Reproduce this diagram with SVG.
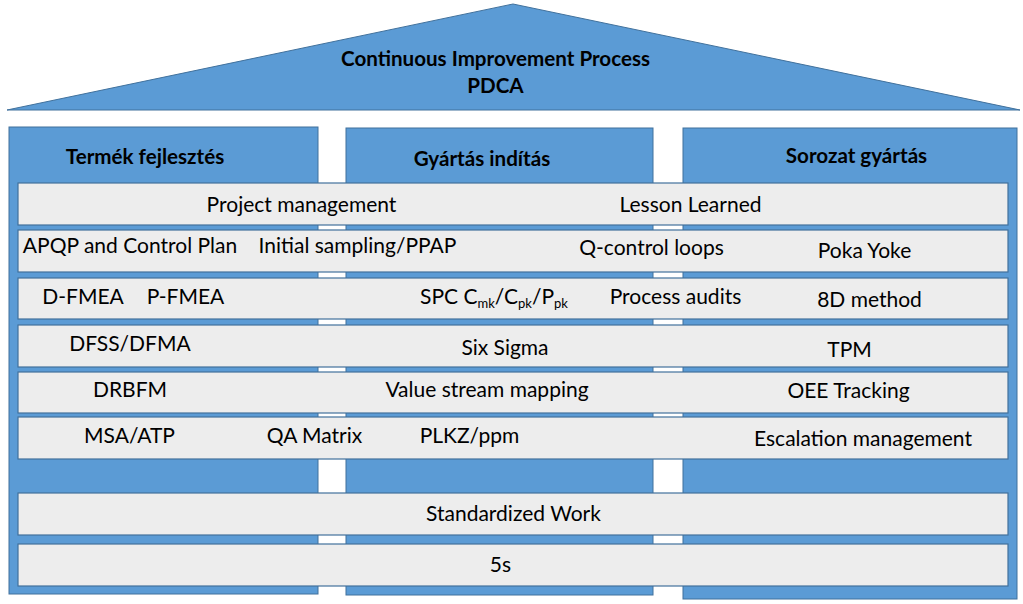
<svg xmlns="http://www.w3.org/2000/svg" width="1023" height="604" viewBox="0 0 1023 604">
<style>
.blue{fill:#5B9BD5;stroke:#41719C;stroke-width:1}
.row{fill:#EDEDED;stroke:#41719C;stroke-width:1.2}
text{font-family:Lato,"Liberation Sans",sans-serif;fill:#000}
.h{font-weight:bold;font-size:20.6px;text-anchor:middle}
.t{font-size:21px;text-anchor:middle}
.s{font-size:21px}
.sub{font-size:13px}
</style>
<rect width="1023" height="604" fill="#fff"/>
<g id="roof">
<polygon class="blue" points="7,110 513,4 1020,110"/>
<text class="h" x="495.5" y="66">Continuous Improvement Process</text>
<text class="h" x="495.5" y="93">PDCA</text>
</g>
<g id="col-termek">
<rect class="blue" x="9" y="127" width="309" height="467"/>
<text class="h" x="145" y="164">Termék fejlesztés</text>
</g>
<g id="col-gyartas">
<rect class="blue" x="346" y="128" width="307" height="467"/>
<text class="h" x="482" y="166">Gyártás indítás</text>
</g>
<g id="col-sorozat">
<rect class="blue" x="683" y="128" width="334" height="471"/>
<text class="h" x="856.5" y="163">Sorozat gyártás</text>
</g>
<g id="row1">
<rect class="row" x="18" y="183" width="990" height="42"/>
<text class="t" x="301.5" y="212">Project management</text>
<text class="t" x="690.5" y="212">Lesson Learned</text>
</g>
<g id="row2">
<rect class="row" x="18" y="230" width="990" height="42"/>
<text class="t" x="130" y="253">APQP and Control Plan</text>
<text class="t" x="357.5" y="253">Initial sampling/PPAP</text>
<text class="t" x="651.5" y="255">Q-control loops</text>
<text class="t" x="864.5" y="258">Poka Yoke</text>
</g>
<g id="row3">
<rect class="row" x="18" y="278" width="990" height="41"/>
<text class="t" x="83" y="304">D-FMEA</text>
<text class="t" x="185.5" y="304">P-FMEA</text>
<text class="s" x="420" y="304">SPC C<tspan class="sub" dy="4">mk</tspan><tspan dy="-4">/C</tspan><tspan class="sub" dy="4">pk</tspan><tspan dy="-4">/P</tspan><tspan class="sub" dy="4">pk</tspan></text>
<text class="t" x="675.5" y="304">Process audits</text>
<text class="t" x="869.5" y="307">8D method</text>
</g>
<g id="row4">
<rect class="row" x="18" y="325" width="990" height="42"/>
<text class="t" x="130" y="351">DFSS/DFMA</text>
<text class="t" x="505" y="355">Six Sigma</text>
<text class="t" x="849.5" y="357">TPM</text>
</g>
<g id="row5">
<rect class="row" x="18" y="372" width="990" height="41"/>
<text class="t" x="130" y="397">DRBFM</text>
<text class="t" x="487" y="397">Value stream mapping</text>
<text class="t" x="848.5" y="398">OEE Tracking</text>
</g>
<g id="row6">
<rect class="row" x="18" y="417" width="990" height="42"/>
<text class="t" x="129.5" y="443">MSA/ATP</text>
<text class="t" x="314.5" y="443">QA Matrix</text>
<text class="t" x="469.5" y="443">PLKZ/ppm</text>
<text class="t" x="863" y="446">Escalation management</text>
</g>
<g id="row7">
<rect class="row" x="18" y="493" width="990" height="42"/>
<text class="t" x="513.5" y="521">Standardized Work</text>
</g>
<g id="row8">
<rect class="row" x="18" y="544" width="990" height="42"/>
<text class="t" x="500.5" y="572">5s</text>
</g>
<g id="connectors"/>
</svg>
